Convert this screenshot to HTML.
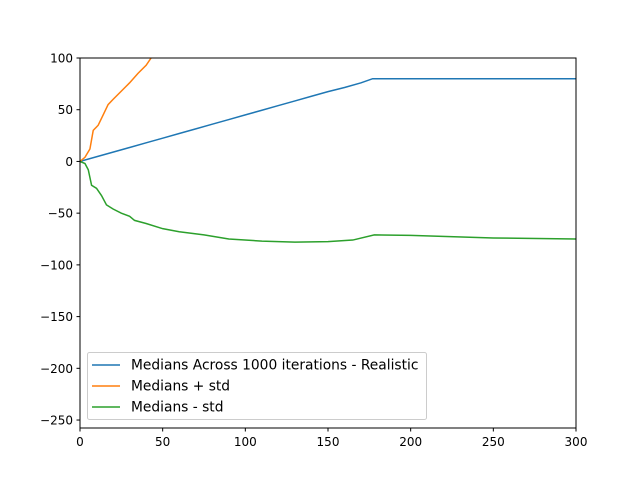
<!DOCTYPE html>
<html><head><meta charset="utf-8"><style>
body{margin:0;background:#fff}
svg{display:block;font-family:"DejaVu Sans","Liberation Sans",sans-serif}
</style></head><body>
<svg id="chart" width="640" height="480">
<rect width="640" height="480" fill="#fff"/>
<defs><clipPath id="clip"><rect x="80" y="58" width="496" height="370"/></clipPath></defs>
<g id="series" clip-path="url(#clip)"></g>
<g id="axes"></g>
</svg>
<script>
const xTicks=[0,50,100,150,200,250,300];
const yTicks=[100,50,0,-50,-100,-150,-200,-250];
const blueX=[0,10,20,30,40,50,60,70,80,90,100,110,120,130,140,150,160,170,177,200,250,300];
const blueY=[0,4.5,9,13.5,18,22.5,27,31.5,36,40.5,45,49.5,54,58.5,63,67.5,71.5,76,80,80,80,80];
const orangeX=[0,3,6,8,11,14,17,20,25,30,35,40,43,50];
const orangeY=[0,4,12,30,35,45,55,60,68,76,85,93,100,115];
const greenX=[0,3,5,7,10,13,16,20,25,30,33,40,50,60,75,90,110,130,150,165,178,200,250,300];
const greenY=[0,-2,-8,-23,-26,-33,-42,-46,-50,-53,-57,-60,-65,-68,-71,-75,-77,-78,-77.5,-76,-71,-71.5,-74,-75];
const legendLabels=["Medians Across 1000 iterations - Realistic","Medians + std","Medians - std"];
const colors=["#1f77b4","#ff7f0e","#2ca02c"];
const X0=80,X1=576,Y0=58,Y1=428,XMIN=0,XMAX=300,YMIN=-257.7,YMAX=100;
const sx=v=>X0+(v-XMIN)/(XMAX-XMIN)*(X1-X0);
const sy=v=>Y1-(v-YMIN)/(YMAX-YMIN)*(Y1-Y0);
const NS="http://www.w3.org/2000/svg";
const svg=document.getElementById('chart'),gS=document.getElementById('series'),gA=document.getElementById('axes');
function mk(t,a,p){const e=document.createElementNS(NS,t);for(const k in a)e.setAttribute(k,a[k]);p.appendChild(e);return e;}
const series=[[blueX,blueY,'line-realistic'],[orangeX,orangeY,'line-plus-std'],[greenX,greenY,'line-minus-std']];
series.forEach((s,i)=>{
 const d=s[0].map((x,j)=>(j?'L':'M')+sx(x).toFixed(2)+','+sy(s[1][j]).toFixed(2)).join('');
 const p=mk('path',{d:d,fill:'none',stroke:colors[i],'stroke-width':1.5},gS);
 
 
});
const fr=mk('rect',{x:X0,y:Y0,width:X1-X0,height:Y1-Y0,fill:'none',stroke:'#000','stroke-width':1},gA);


xTicks.forEach(v=>{
 const x=sx(v);
 mk('line',{x1:x,x2:x,y1:Y1,y2:Y1+3.5,stroke:'#000'},gA);
 const t=mk('text',{x:x,y:Y1+18,'text-anchor':'middle','font-size':12},gA);t.textContent=v;
 
 
});
yTicks.forEach(v=>{
 const y=sy(v);
 mk('line',{x1:X0-3.5,x2:X0,y1:y,y2:y,stroke:'#000'},gA);
 const t=mk('text',{x:X0-7,y:y+4.5,'text-anchor':'end','font-size':12},gA);t.textContent=v===0?'0':(v<0?'\u2212'+(-v):v);
 
 
});
const lg=mk('g',{},gA);


mk('rect',{x:87.5,y:352.5,width:339,height:67,rx:2,fill:'#fff','fill-opacity':0.8,stroke:'#ccc'},lg);
legendLabels.forEach((l,i)=>{
 const y=365+i*21;
 const e=mk('g',{},lg);
 
 
 mk('line',{x1:92,x2:120,y1:y,y2:y,stroke:colors[i],'stroke-width':1.5},e);
 const t=mk('text',{x:131,y:y+4.5,'font-size':13.8},e);t.textContent=l;
});
</script>
</body></html>
